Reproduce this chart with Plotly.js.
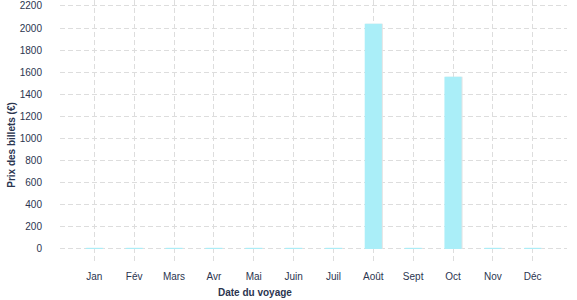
<!DOCTYPE html>
<html><head><meta charset="utf-8">
<script src="https://cdn.plot.ly/plotly-3.0.1.min.js"></script>
<style>html,body{margin:0;padding:0;background:#fff}#c{width:577px;height:300px}</style>
</head><body><div id="c"></div>
<script>
const months = ["Jan","Fév","Mars","Avr","Mai","Juin","Juil","Août","Sept","Oct","Nov","Déc"];
const prices = [10,10,10,10,10,10,10,2040,10,1560,10,10];
const yTicks = [0,200,400,600,800,1000,1200,1400,1600,1800,2000,2200];
const xTitle = "Date du voyage";
const yTitle = "Prix des billets (€)";

const txt = '#2b3550';
const grid = {showgrid:true, gridcolor:'#dddddd', griddash:'5px,3px', gridwidth:1, zeroline:false, showline:false, ticks:''};
Plotly.newPlot('c', [
 {type:'bar', x:months, y:prices, width:0.43, offset:-0.19,
  marker:{color:'#e3e3e3'}, hoverinfo:'none'},
 {type:'bar', x:months, y:prices, width:0.43, offset:-0.215,
  marker:{color:'#aaeef8'}, hoverinfo:'none'}
], {
  width:577, height:300, barmode:'overlay',
  margin:{l:60, r:10, t:0, b:37},
  paper_bgcolor:'#fff', plot_bgcolor:'#fff',
  font:{family:'Liberation Sans, Arial, sans-serif', size:10, color:txt},
  showlegend:false,
  xaxis:Object.assign({}, grid, {type:'category', range:[-0.86, 11.86], tickfont:{size:10, color:txt}, ticklabelstandoff:6}),
  yaxis:Object.assign({}, grid, {range:[-127, 2254], tickvals:yTicks, ticktext:yTicks.map(String), tickfont:{size:10, color:txt}, ticklabelstandoff:17}),
  annotations:[
    {text:'<b>'+xTitle+'</b>', xref:'paper', yref:'paper', x:0.385, y:-0.114, showarrow:false, font:{size:10, color:txt}, xanchor:'center', yanchor:'middle'},
    {text:'<b>'+yTitle+'</b>', xref:'paper', yref:'paper', x:-0.095, y:0.449, showarrow:false, textangle:-90, font:{size:10, color:txt}, xanchor:'center', yanchor:'middle'}
  ]
}, {displayModeBar:false, staticPlot:true});
</script></body></html>
